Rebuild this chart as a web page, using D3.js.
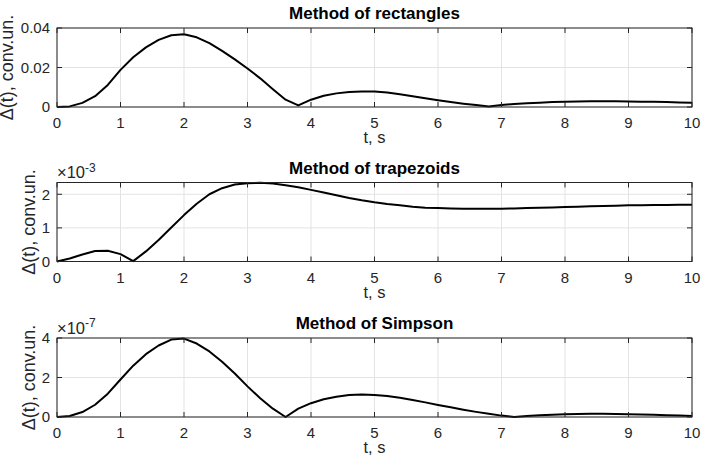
<!DOCTYPE html>
<html><head><meta charset="utf-8">
<script src="https://cdn.jsdelivr.net/npm/d3@7"></script>
<style>
body{margin:0;background:#fff}
svg text{font-family:Arial,"Liberation Sans",Helvetica,sans-serif}
</style>
</head><body>
<svg id="chart" width="701" height="464"></svg>
<script>
// ---- data ----
const time = [0,0.2,0.4,0.6,0.8,1,1.2,1.4,1.6,1.8,2,2.2,2.4,2.6,2.8,3,3.2,3.4,3.6,3.8,4,4.2,4.4,4.6,4.8,5,5.2,5.4,5.6,5.8,6,6.2,6.4,6.6,6.8,7,7.2,7.4,7.6,7.8,8,8.2,8.4,8.6,8.8,9,9.2,9.4,9.6,9.8,10];

const rectangles = [0,0.0003,0.0021,0.0055,0.0112,0.0188,0.0252,0.0302,0.0340,0.0363,0.0368,0.0353,0.0323,0.0284,0.0241,0.0195,0.0145,0.0090,0.0037,0.0008,0.0037,0.0057,0.0069,0.0076,0.0079,0.0078,0.0073,0.0064,0.0054,0.0044,0.0034,0.0025,0.0017,0.0010,0.0003,0.0010,0.0015,0.0019,0.0022,0.0025,0.0027,0.0028,0.0029,0.0029,0.0029,0.0028,0.0027,0.0026,0.0025,0.0023,0.0022];

// in units of 1e-3
const trapezoids = [0,0.09,0.21,0.31,0.32,0.22,0.01,0.30,0.64,1.01,1.38,1.72,2.00,2.18,2.29,2.33,2.34,2.32,2.27,2.21,2.13,2.05,1.97,1.89,1.82,1.76,1.71,1.67,1.63,1.60,1.59,1.58,1.57,1.57,1.57,1.57,1.58,1.59,1.60,1.61,1.62,1.63,1.64,1.65,1.66,1.67,1.67,1.68,1.68,1.69,1.69];

// in units of 1e-7
const simpson = [0,0.05,0.25,0.62,1.18,1.90,2.60,3.18,3.62,3.92,3.97,3.72,3.32,2.80,2.20,1.55,0.95,0.42,0.0,0.42,0.70,0.90,1.03,1.11,1.14,1.12,1.06,0.97,0.86,0.74,0.61,0.49,0.37,0.26,0.16,0.07,0.0,0.05,0.09,0.12,0.14,0.15,0.16,0.16,0.15,0.14,0.13,0.11,0.09,0.07,0.05];

const xTicks = [0,1,2,3,4,5,6,7,8,9,10];
const titles = ["Method of rectangles","Method of trapezoids","Method of Simpson"];
const yTicksList = [[0,0.02,0.04],[0,1,2],[0,2,4]];
const yTickLabelsList = [["0","0.02","0.04"],["0","1","2"],["0","2","4"]];
const yMaxList = [0.04, 2.35, 4];
const exponents = [null, "-3", "-7"];
const xLabel = "t, s";
const yLabel = "\u0394(t), conv.un.";
const seriesList = [rectangles, trapezoids, simpson];

// ---- layout ----
const svg = d3.select("#chart");
const left = 57, right = 692, h = 79;
const tops = [28, 182.5, 338];
const yLabelX = [13, 35, 35];
const axisColor = "#262626";
const gridColor = "#e3e3e3";
const tickLen = 5;

const x = d3.scaleLinear().domain([0,10]).range([0, right-left]);
const w = right - left;

seriesList.forEach((vals, i) => {
  const g = svg.append("g").attr("transform", `translate(${left},${tops[i]})`);
  const y = d3.scaleLinear().domain([0, yMaxList[i]]).range([h, 0]);

  // grid
  g.selectAll(".gx").data(xTicks).enter().append("line")
    .attr("x1", d => x(d)).attr("x2", d => x(d)).attr("y1", 0).attr("y2", h)
    .attr("stroke", gridColor).attr("stroke-width", 1);
  g.selectAll(".gy").data(yTicksList[i]).enter().append("line")
    .attr("x1", 0).attr("x2", w).attr("y1", d => y(d)).attr("y2", d => y(d))
    .attr("stroke", gridColor).attr("stroke-width", 1);

  // line
  const line = d3.line().x((d, k) => x(time[k])).y(d => y(d));
  g.append("path").datum(vals).attr("d", line)
    .attr("fill", "none").attr("stroke", "#000").attr("stroke-width", 2)
    .attr("stroke-linejoin", "round");

  // ticks (inward, all four sides)
  xTicks.forEach(t => {
    g.append("line").attr("x1", x(t)).attr("x2", x(t)).attr("y1", h).attr("y2", h - tickLen).attr("stroke", axisColor);
    g.append("line").attr("x1", x(t)).attr("x2", x(t)).attr("y1", 0).attr("y2", tickLen).attr("stroke", axisColor);
  });
  yTicksList[i].forEach(t => {
    g.append("line").attr("x1", 0).attr("x2", tickLen).attr("y1", y(t)).attr("y2", y(t)).attr("stroke", axisColor);
    g.append("line").attr("x1", w).attr("x2", w - tickLen).attr("y1", y(t)).attr("y2", y(t)).attr("stroke", axisColor);
  });

  // box
  g.append("rect").attr("x", 0).attr("y", 0).attr("width", w).attr("height", h)
    .attr("fill", "none").attr("stroke", axisColor).attr("stroke-width", 1);

  // x tick labels
  g.selectAll(".xl").data(xTicks).enter().append("text")
    .attr("x", d => x(d)).attr("y", h + 21).attr("text-anchor", "middle")
    .attr("font-size", 15).attr("fill", axisColor).text(d => d);
  // y tick labels
  g.selectAll(".yl").data(yTicksList[i]).enter().append("text")
    .attr("x", -7).attr("y", d => y(d) + 5.4).attr("text-anchor", "end")
    .attr("font-size", 15).attr("fill", axisColor).text((d, k) => yTickLabelsList[i][k]);

  // x label
  g.append("text").attr("x", w/2).attr("y", h + 36).attr("text-anchor", "middle")
    .attr("font-size", 16.5).attr("fill", axisColor).text(xLabel);

  // y label
  g.append("text").attr("transform", `translate(${yLabelX[i]-left},${h/2}) rotate(-90)`)
    .attr("text-anchor", "middle").attr("font-size", 18).attr("fill", axisColor).text(yLabel);

  // title
  g.append("text").attr("x", w/2).attr("y", -9).attr("text-anchor", "middle")
    .attr("font-size", 17).attr("font-weight", "bold").attr("fill", "#000").text(titles[i]);

  // exponent
  if (exponents[i]) {
    const t = g.append("text").attr("x", 0).attr("y", -4.5).attr("font-size", 16.5).attr("fill", axisColor);
    t.append("tspan").text("\u00d710");
    t.append("tspan").attr("dy", -6.5).attr("font-size", 12).text(exponents[i]);
  }
});
</script>
</body></html>
